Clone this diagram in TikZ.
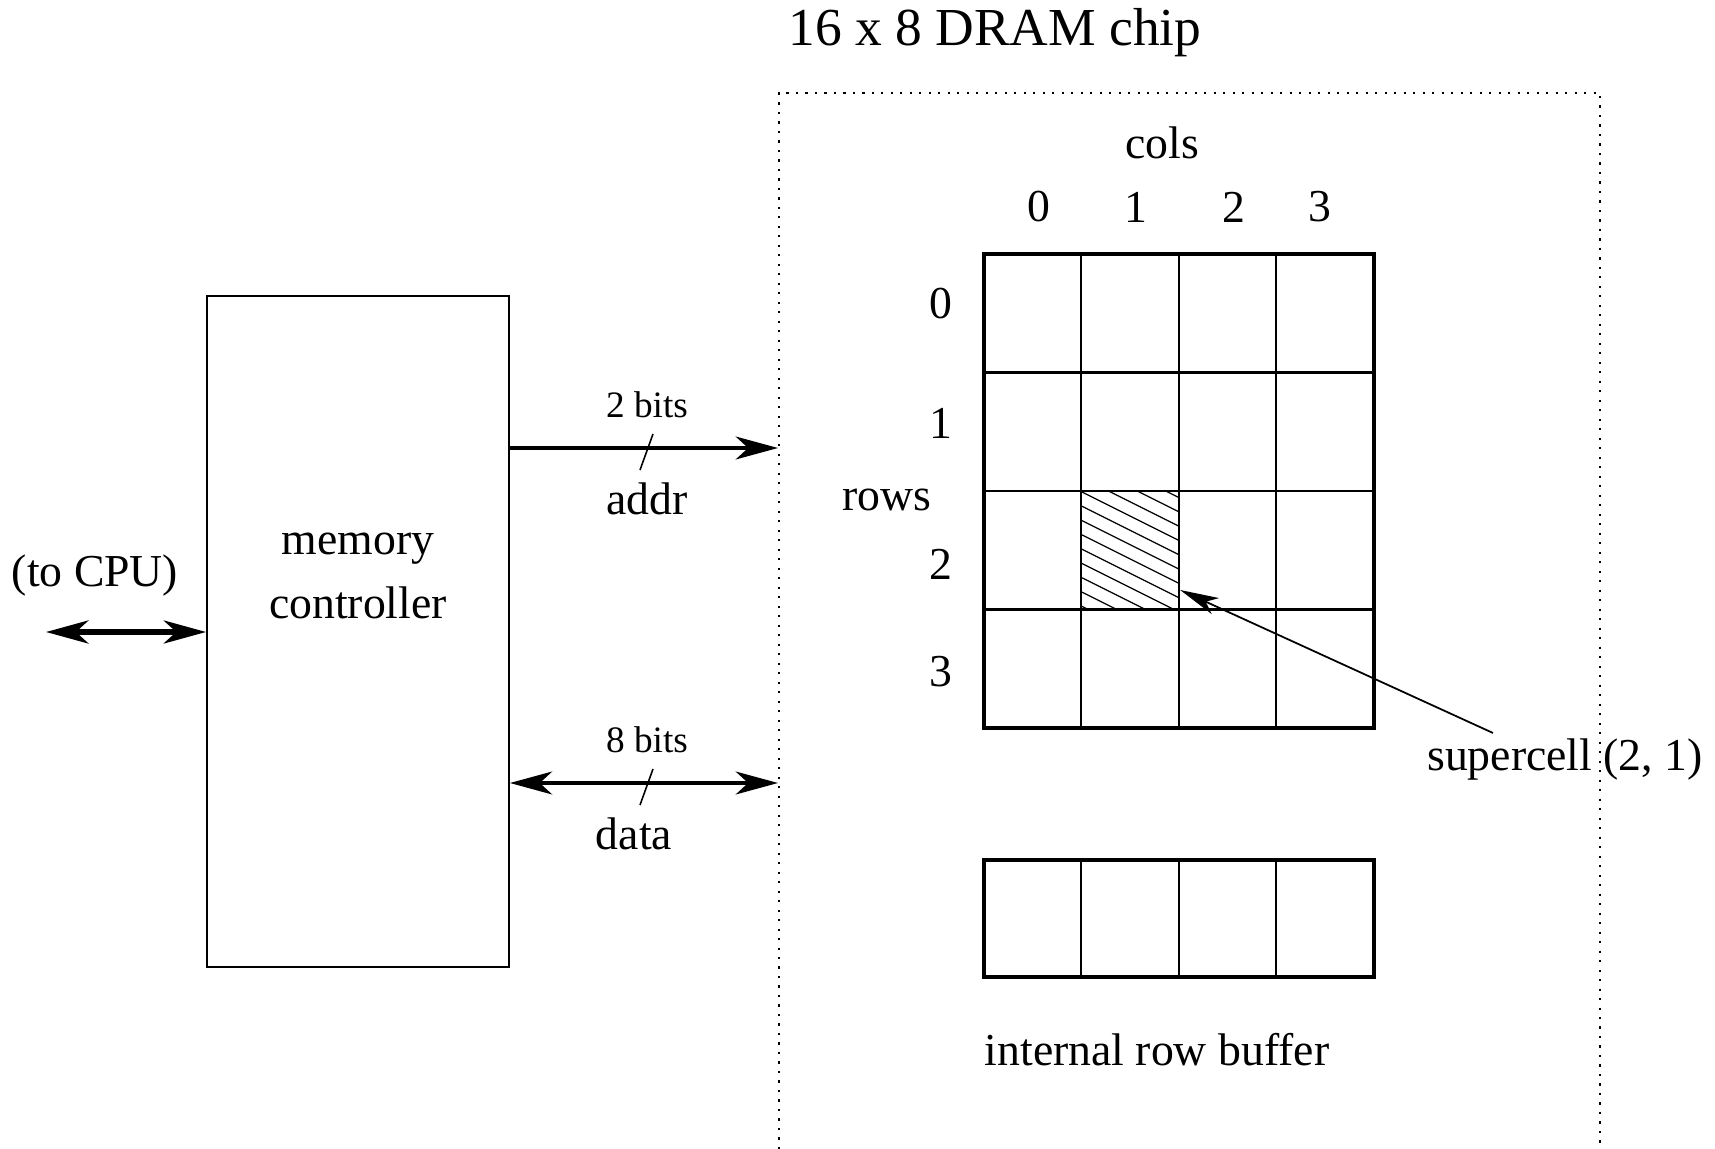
\documentclass[tikz,border=0pt]{standalone}
\usepackage{fontspec}
\setmainfont{Liberation Serif}
\usetikzlibrary{arrows.meta}
\tikzset{
  bushead/.tip={Stealth[length=12pt,width=6.5pt,inset=3.5pt]},
  pointhead/.tip={Stealth[length=11pt,width=5pt,inset=3pt]},
}
\begin{document}
\begin{tikzpicture}[x=0.01cm,y=-0.01cm,
  txt/.style={font=\fontsize{13}{18}\selectfont, inner sep=0pt},
  smalltxt/.style={font=\fontsize{10.6}{13}\selectfont, inner sep=0pt},
  titletxt/.style={font=\fontsize{15.2}{18}\selectfont, inner sep=0pt},
  bus/.style={line width=1.1pt},
  thinline/.style={line width=0.45pt},
  gridouter/.style={line width=1pt},
  gridinner/.style={line width=0.6pt},
  chipedge/.style={line width=0.6pt, dash pattern=on 0.6pt off 2.1pt},
]
\useasboundingbox (0,0) rectangle (1715,1149);

% chip outline (open at the bottom)
\draw[chipedge] (779,1149) -- (779,93) -- (1600,93) -- (1600,1149);
\node[titletxt] (title) at (995,33) {16 x 8 DRAM chip};
\coordinate (chipaddr) at (778,448);
\coordinate (chipdata) at (778,783);

% memory controller
\node[draw, thinline, minimum width=30.2mm, minimum height=67.1mm, inner sep=0pt]
  (mc) at (358,631.5) {};
\node[txt, align=center] (mctext) at (358,576) {memory\\controller};

% CPU side
\node[txt] (cpu) at (95,576) {(to CPU)};
\coordinate (cpuend) at (46,632);
\draw[line width=1.7pt, {bushead}-{bushead}] (cpuend) -- (mc.west |- cpuend);

% address bus
\draw[bus, -{bushead}] (mc.east |- chipaddr) -- (chipaddr);
\draw[thinline] (653,434) -- (640,470);
\node[smalltxt] (abits) at (647,405) {2 bits};
\node[txt] (addr) at (647,499) {addr};

% data bus
\draw[bus, {bushead}-{bushead}] (mc.east |- chipdata) -- (chipdata);
\draw[thinline] (653,769) -- (640,805);
\node[smalltxt] (dbits) at (647,740) {8 bits};
\node[txt] (data) at (634,834) {data};

% DRAM array labels
\node[txt] (cols) at (1162,143) {cols};
\node[txt] (c0) at (1039,207) {0};
\node[txt] (c1) at (1136,207) {1};
\node[txt] (c2) at (1234,207) {2};
\node[txt] (c3) at (1320,207) {3};
\node[txt] (r0) at (941,304) {0};
\node[txt] (r1) at (941,423) {1};
\node[txt] (r2) at (941,564) {2};
\node[txt] (r3) at (941,672) {3};
\node[txt] (rows) at (887,500) {rows};

% supercell (2,1), hatched
\node[inner sep=0pt, minimum width=9.74mm, minimum height=11.87mm] (sc) at (1130.7,551.4) {};
\begin{scope}
  \clip (1082.0,492.0) rectangle (1179.4,610.7);
  \foreach \k in {-4,...,9}
    \draw[line width=0.35pt] (1082,492+14.3*\k) -- (1180,541+14.3*\k);
\end{scope}

% DRAM array grid
\foreach \i in {1,2,3} {
  \draw[gridinner] (984+97.4*\i,254) -- (984+97.4*\i,728);
  \draw[gridinner] (984,254+118.5*\i) -- (1374,254+118.5*\i);
}
\draw[gridouter] (984,254) rectangle (1374,728);

% supercell pointer
\node[txt] (sclabel) at (1565,760) {supercell (2, 1)};
\coordinate (scfrom) at (1493,733);
\draw[line width=0.5pt, -{pointhead}] (scfrom) -- (sc.east |- 0,590);

% internal row buffer
\foreach \i in {1,2,3}
  \draw[gridinner] (984+97.4*\i,860) -- (984+97.4*\i,977);
\draw[gridouter] (984,860) rectangle (1374,977);
\node[txt] (rbuf) at (1157,1050) {internal row buffer};

\end{tikzpicture}
\end{document}
